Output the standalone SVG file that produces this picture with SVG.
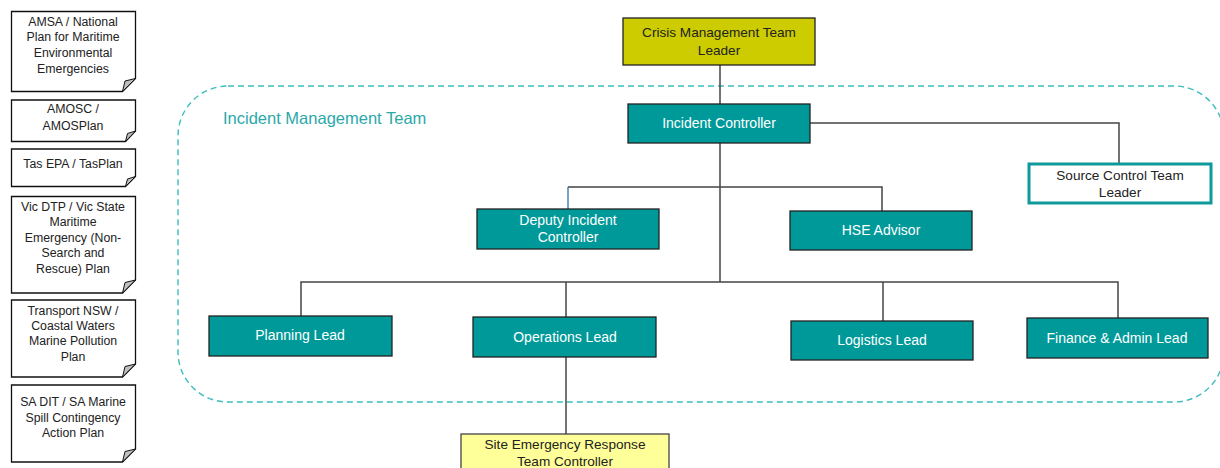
<svg xmlns="http://www.w3.org/2000/svg" width="1220" height="468" viewBox="0 0 1220 468">
<style>
.doc{fill:#fff;stroke:#111;stroke-width:1.3}
.fold{fill:#bfbfbf;stroke:#111;stroke-width:1}
.dt{font-family:"Liberation Sans",Arial,sans-serif;font-size:12.3px;fill:#222;text-anchor:middle}
.teal{fill:#009999;stroke:#222;stroke-width:1.3}
.wt{font-family:"Liberation Sans",Arial,sans-serif;font-size:14px;fill:#fff;text-anchor:middle}
.bt{font-family:"Liberation Sans",Arial,sans-serif;font-size:13.6px;fill:#222;text-anchor:middle}
.conn{fill:none;stroke:#444;stroke-width:1.5}
</style>
<rect x="0" y="0" width="1220" height="468" fill="#fff"/>
<g id="imt-boundary">
<rect x="178" y="86" width="1046" height="316" rx="50" ry="50" fill="none" stroke="#3DBDBD" stroke-width="1.4" stroke-dasharray="6,4"/>
<text x="223" y="124" font-family="'Liberation Sans',Arial,sans-serif" font-size="16.5px" fill="#2AA9A9">Incident Management Team</text>
</g>
<g id="connectors">
<path class="conn" d="M720 65V104"/>
<path class="conn" d="M810 123H1119V163"/>
<path class="conn" d="M720 143V282"/>
<path class="conn" d="M568 187H882V211"/>
<path d="M568 187V209" fill="none" stroke="#2F6FA8" stroke-width="1.3"/>
<path class="conn" d="M301 316V282H1118V318"/>
<path class="conn" d="M566 282V317"/>
<path class="conn" d="M883 282V321"/>
<path class="conn" d="M566 357V434"/>
</g>
<g id="doc-amsa">
<path class="doc" d="M11.5 11.5H135.5V78.5L122.5 91.5H11.5Z"/>
<path class="fold" d="M135.5 78.5L122.5 91.5L125 81Z"/>
<text class="dt" x="73" y="25.5">AMSA / National</text>
<text class="dt" x="73" y="41">Plan for Maritime</text>
<text class="dt" x="73" y="57">Environmental</text>
<text class="dt" x="73" y="72.5">Emergencies</text>
</g>
<g id="doc-amosc">
<path class="doc" d="M11.5 100H135.5V131L125.5 141.5H11.5Z"/>
<path class="fold" d="M135.5 131L125.5 141.5L127.5 133.5Z"/>
<text class="dt" x="73" y="113">AMOSC /</text>
<text class="dt" x="73" y="129.5">AMOSPlan</text>
</g>
<g id="doc-tas">
<path class="doc" d="M11.5 149H135.5V176.5L125.5 186.5H11.5Z"/>
<path class="fold" d="M135.5 176.5L125.5 186.5L127.5 179Z"/>
<text class="dt" x="73" y="168">Tas EPA / TasPlan</text>
</g>
<g id="doc-vic">
<path class="doc" d="M11.5 196.5H135.5V280L122.5 293H11.5Z"/>
<path class="fold" d="M135.5 280L122.5 293L125 282.5Z"/>
<text class="dt" x="73" y="210.5">Vic DTP / Vic State</text>
<text class="dt" x="73" y="226">Maritime</text>
<text class="dt" x="73" y="241.5">Emergency (Non-</text>
<text class="dt" x="73" y="257">Search and</text>
<text class="dt" x="73" y="272.5">Rescue) Plan</text>
</g>
<g id="doc-nsw">
<path class="doc" d="M11.5 300H135.5V364L122.5 377H11.5Z"/>
<path class="fold" d="M135.5 364L122.5 377L125 366.5Z"/>
<text class="dt" x="73" y="314.5">Transport NSW /</text>
<text class="dt" x="73" y="329.5">Coastal Waters</text>
<text class="dt" x="73" y="345">Marine Pollution</text>
<text class="dt" x="73" y="361">Plan</text>
</g>
<g id="doc-sa">
<path class="doc" d="M11.5 385H135.5V449L122.5 462H11.5Z"/>
<path class="fold" d="M135.5 449L122.5 462L125 451.5Z"/>
<text class="dt" x="73" y="406">SA DIT / SA Marine</text>
<text class="dt" x="73" y="422">Spill Contingency</text>
<text class="dt" x="73" y="437">Action Plan</text>
</g>
<g id="crisis-leader">
<rect x="623" y="18" width="192" height="47" fill="#CCCC00" stroke="#222" stroke-width="1.3"/>
<text class="bt" x="719" y="37">Crisis Management Team</text>
<text class="bt" x="719" y="54.5">Leader</text>
</g>
<g id="incident-controller">
<rect class="teal" x="628" y="104" width="182" height="39"/>
<text class="wt" x="719" y="128">Incident Controller</text>
</g>
<g id="source-control">
<rect x="1029" y="164" width="182" height="39" fill="#fff" stroke="#0E9A9A" stroke-width="3"/>
<text class="bt" x="1120" y="179.5">Source Control Team</text>
<text class="bt" x="1120" y="196.5">Leader</text>
</g>
<g id="deputy-ic">
<rect class="teal" x="477" y="209" width="182" height="40"/>
<text class="wt" x="568" y="224.5">Deputy Incident</text>
<text class="wt" x="568" y="241.5">Controller</text>
</g>
<g id="hse-advisor">
<rect class="teal" x="790" y="211" width="182" height="39"/>
<text class="wt" x="881" y="235">HSE Advisor</text>
</g>
<g id="planning-lead">
<rect class="teal" x="209" y="316" width="183" height="40"/>
<text class="wt" x="300" y="340">Planning Lead</text>
</g>
<g id="operations-lead">
<rect class="teal" x="473" y="317" width="183" height="40"/>
<text class="wt" x="565" y="341.5">Operations Lead</text>
</g>
<g id="logistics-lead">
<rect class="teal" x="791" y="321" width="182" height="39"/>
<text class="wt" x="882" y="344.5">Logistics Lead</text>
</g>
<g id="finance-lead">
<rect class="teal" x="1027" y="318" width="181" height="40"/>
<text class="wt" x="1117" y="342.5">Finance &amp; Admin Lead</text>
</g>
<g id="site-erp">
<rect x="461" y="434" width="208" height="40" fill="#FFFF99" stroke="#444" stroke-width="1.3"/>
<text class="bt" x="565" y="449">Site Emergency Response</text>
<text class="bt" x="565" y="466">Team Controller</text>
</g>
</svg>
